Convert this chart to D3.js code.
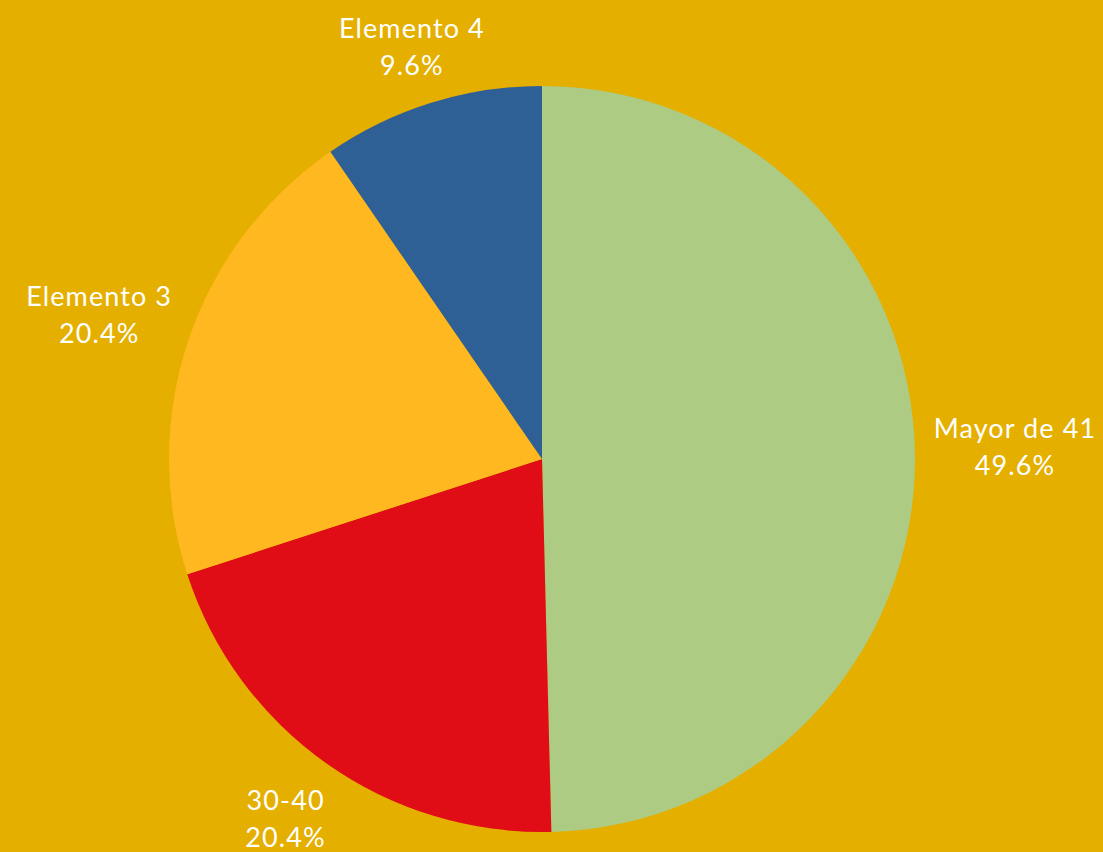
<!DOCTYPE html>
<html>
<head>
<meta charset="utf-8">
<script src="https://cdn.jsdelivr.net/npm/d3@7"></script>
<style>
  html, body { margin: 0; padding: 0; background: #E5AF00; }
  svg { display: block; }
  .label { font-family: Lato, "Noto Sans", sans-serif; fill: #fff; font-size: 27px; letter-spacing: 1.1px; }
</style>
</head>
<body>
<svg id="chart"></svg>
<script>
// data, clockwise from 12 o'clock
const categories = ["Mayor de 41", "30-40", "Elemento 3", "Elemento 4"];
const values = [49.6, 20.4, 20.4, 9.6];
const colors = ["#ADCB83", "#E00C16", "#FFB81F", "#2E6096"];

const width = 1103, height = 852;
const cx = 542, cy = 459, radius = 373;

const svg = d3.select("#chart")
    .attr("width", width)
    .attr("height", height);

const g = svg.append("g").attr("transform", `translate(${cx},${cy})`);

const pie = d3.pie().sort(null).value(d => d.value);
const arcs = pie(categories.map((c, i) => ({ name: c, value: values[i], color: colors[i] })));

const arc = d3.arc().innerRadius(0).outerRadius(radius);
const labelArc = d3.arc().innerRadius(437).outerRadius(437);

g.selectAll("path.slice")
    .data(arcs)
    .join("path")
    .attr("class", "slice")
    .attr("d", arc)
    .attr("fill", d => d.data.color);

// labels outside the pie, pushed out a bit more at the sides
const labels = g.selectAll("text.label")
    .data(arcs)
    .join("text")
    .attr("class", "label")
    .attr("text-anchor", "middle")
    .attr("transform", d => {
        const [x, y] = labelArc.centroid(d);
        const mid = (d.startAngle + d.endAngle) / 2;
        const s = Math.sin(mid);
        const k = Math.pow(s, 4);
        return `translate(${x + Math.sign(s) * 36 * k},${y - 11 * k})`;
    });

labels.append("tspan")
    .attr("x", 0)
    .attr("dy", "-0.15em")
    .text(d => d.data.name);

labels.append("tspan")
    .attr("x", 0)
    .attr("dy", 37)
    .text(d => d.data.value.toFixed(1) + "%");
</script>
</body>
</html>
